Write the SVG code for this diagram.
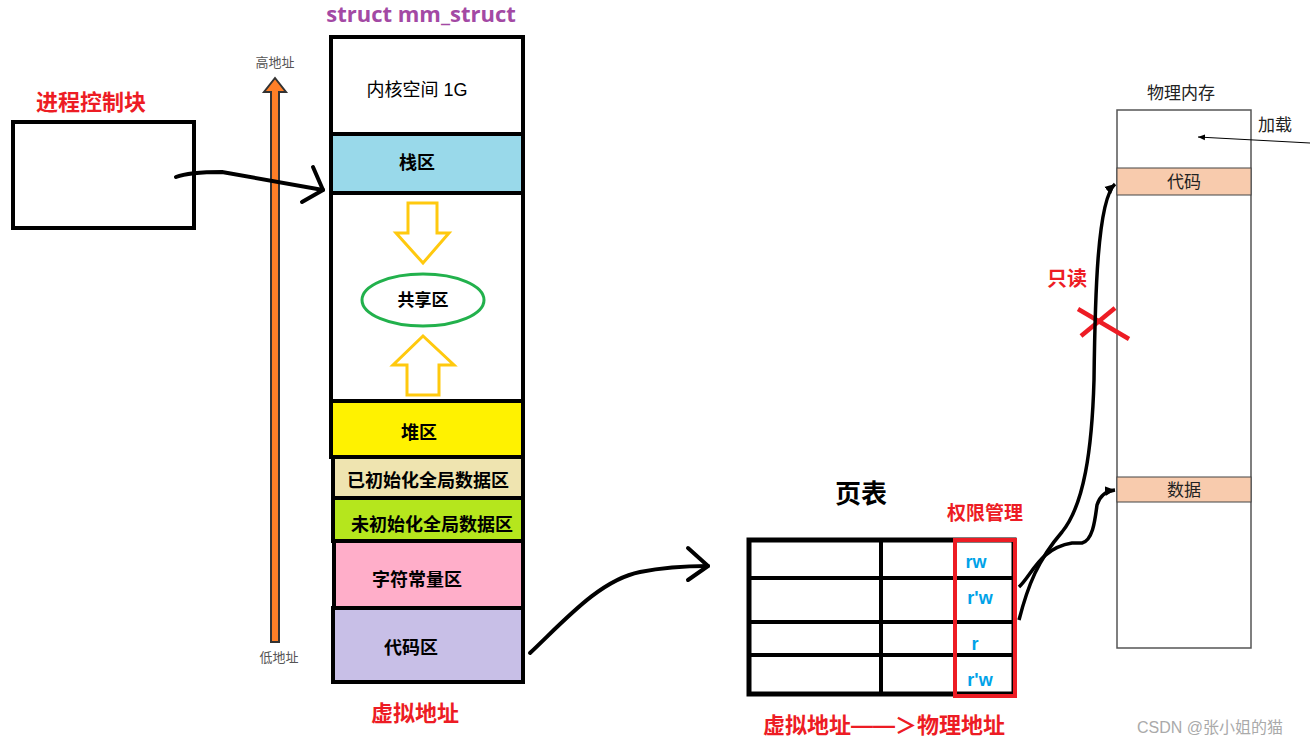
<svg xmlns="http://www.w3.org/2000/svg" width="1310" height="748" viewBox="0 0 1310 748">
<defs>
<style>
text{font-family:"Liberation Sans","Noto Sans CJK SC",sans-serif;text-anchor:middle;dominant-baseline:central}
.b{font-weight:bold}
.red{fill:#ed1c24;font-weight:bold}
.seg{stroke:#000;stroke-width:4}
.blue{fill:#00a2e8;font-weight:bold;font-size:18px}
.ink{fill:none;stroke:#000;stroke-width:4;stroke-linecap:round;stroke-linejoin:round}
.yar{fill:#fff;stroke:#ffc90e;stroke-width:3}
</style>
<marker id="sm" markerWidth="8" markerHeight="8" refX="7" refY="4" orient="auto" markerUnits="userSpaceOnUse"><path d="M0,1 L7,4 L0,7 Z" fill="#000"/></marker>
<marker id="am" markerWidth="12" markerHeight="12" refX="10" refY="6" orient="auto" markerUnits="userSpaceOnUse"><path d="M0,1 L10,6 L0,11 Z" fill="#000"/></marker>
</defs>
<rect width="1310" height="748" fill="#fff"/>

<text x="421" y="13" class="b" style="font-size:22px;fill:#a349a4;font-family:'Open Sans','Liberation Sans',sans-serif">struct mm_struct</text>

<g id="pcb">
<text x="91" y="102" class="red" style="font-size:22px">进程控制块</text>
<rect x="13" y="122" width="181" height="106" fill="#fff" stroke="#000" stroke-width="4"/>
</g>

<g id="addr-axis">
<text x="275" y="62" style="font-size:13px;fill:#555">高地址</text>
<path d="M271,642 L271,92 L264,92 L275,78 L286,92 L279,92 L279,642 Z" fill="#ff7f27" stroke="#333" stroke-width="2"/>
<text x="279" y="657" style="font-size:13px;fill:#555">低地址</text>
</g>

<g id="mm">
<rect x="331" y="37" width="192" height="97" fill="#fff" class="seg"/>
<text x="417" y="90" style="font-size:18px">内核空间 1G</text>
<rect x="331" y="134" width="192" height="59" fill="#99d9ea" class="seg"/>
<text x="417" y="163" class="b" style="font-size:18px">栈区</text>
<rect x="331" y="193" width="192" height="208" fill="#fff" class="seg"/>
<rect x="331" y="401" width="192" height="56" fill="#fff200" class="seg"/>
<text x="419" y="433" class="b" style="font-size:18px">堆区</text>
<rect x="333" y="457" width="190" height="41" fill="#efe4b0" class="seg"/>
<text x="428" y="481" class="b" style="font-size:18px">已初始化全局数据区</text>
<rect x="333" y="498" width="190" height="43" fill="#b5e61d" class="seg"/>
<text x="432" y="525" class="b" style="font-size:18px">未初始化全局数据区</text>
<rect x="334" y="541" width="189" height="67" fill="#ffaec9" class="seg"/>
<text x="417" y="580" class="b" style="font-size:18px">字符常量区</text>
<rect x="333" y="608" width="190" height="74" fill="#c8bfe7" class="seg"/>
<text x="411" y="648" class="b" style="font-size:18px">代码区</text>
<text x="415" y="713" class="red" style="font-size:22px">虚拟地址</text>
</g>

<g id="shared">
<path class="yar" d="M408,203 L437,203 L437,233 L449,233 L423,263 L396,233 L408,233 Z"/>
<ellipse cx="423" cy="300" rx="61" ry="26" fill="#fff" stroke="#22b14c" stroke-width="3"/>
<text x="423" y="300" class="b" style="font-size:17px">共享区</text>
<path class="yar" d="M407,395 L439,395 L439,365 L454,365 L423,336 L393,365 L407,365 Z"/>
</g>

<g id="pagetable">
<text x="861" y="494" class="b" style="font-size:26px">页表</text>
<text x="985" y="513" class="red" style="font-size:19px">权限管理</text>
<rect x="749" y="540" width="265" height="154" fill="#fff" stroke="#000" stroke-width="5"/>
<line x1="749" y1="578" x2="1014" y2="578" stroke="#000" stroke-width="4"/>
<line x1="749" y1="622" x2="1014" y2="622" stroke="#000" stroke-width="4"/>
<line x1="749" y1="655" x2="1014" y2="655" stroke="#000" stroke-width="4"/>
<line x1="881" y1="540" x2="881" y2="694" stroke="#000" stroke-width="4"/>
<rect x="955" y="540" width="60" height="156" fill="none" stroke="#ed1c24" stroke-width="4"/>
<text x="976" y="562" class="blue">rw</text>
<text x="980" y="598" class="blue">r'w</text>
<text x="975" y="644" class="blue">r</text>
<text x="980" y="680" class="blue">r'w</text>
<text x="884" y="725" class="red" style="font-size:22px">虚拟地址——＞物理地址</text>
</g>

<g id="physmem">
<text x="1181" y="93" style="font-size:17px;fill:#222">物理内存</text>
<rect x="1117" y="110" width="134" height="538" fill="#fff" stroke="#555" stroke-width="1.5"/>
<rect x="1117" y="168" width="134" height="27" fill="#f8cbad" stroke="#444" stroke-width="1"/>
<text x="1184" y="182" style="font-size:17px;fill:#222">代码</text>
<rect x="1117" y="477" width="134" height="25" fill="#f8cbad" stroke="#444" stroke-width="1"/>
<text x="1184" y="490" style="font-size:17px;fill:#222">数据</text>
<text x="1275" y="125" style="font-size:17px;fill:#222">加载</text>
</g>

<g id="readonly">
<text x="1067" y="279" class="red" style="font-size:20px">只读</text>
<line x1="1078" y1="309" x2="1129" y2="339" stroke="#ed1c24" stroke-width="4.5"/>
<line x1="1081" y1="336" x2="1115" y2="308" stroke="#ed1c24" stroke-width="4.5"/>
</g>

<g id="connectors">
<path class="ink" d="M176,177 C186,173 200,172 222,172 L323,190"/>
<path class="ink" d="M313,167 L323,190 L302,202"/>
<path class="ink" d="M530,653 C565,620 600,580 640,572 C665,567 690,566 708,566"/>
<path class="ink" d="M688,548 L708,566 L688,580"/>
<path d="M1310,143 L1198,137" fill="none" stroke="#000" stroke-width="1" marker-end="url(#sm)"/>
<path d="M1019,620 C1028,585 1038,560 1062,532 C1084,505 1092,450 1094,380 C1095,300 1097,200 1115,184" fill="none" stroke="#000" stroke-width="3.5" marker-end="url(#am)"/>
<path d="M1019,587 C1032,575 1040,548 1072,543 L1082,543 C1093,540 1095,520 1097,505 C1100,495 1106,491 1115,490" fill="none" stroke="#000" stroke-width="3.5" marker-end="url(#am)"/>
</g>

<text x="1210" y="727" style="font-size:16px;fill:#aaa">CSDN @张小姐的猫</text>
</svg>
